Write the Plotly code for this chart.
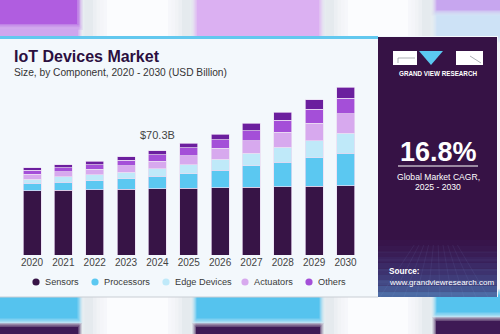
import plotly.graph_objects as go

# ---- data (USD billion) ----
years = ["2020", "2021", "2022", "2023", "2024", "2025", "2026", "2027", "2028", "2029", "2030"]
sensors = [43.3, 43.6, 44.0, 44.3, 44.7, 45.0, 45.2, 45.6, 46.0, 46.3, 46.7]
processors = [5.0, 5.4, 6.1, 7.1, 8.4, 9.8, 11.9, 14.4, 16.4, 19.1, 21.8]
edge_devices = [2.9, 3.6, 4.0, 4.5, 5.1, 6.1, 7.4, 8.6, 10.1, 11.7, 13.5]
actuators = [3.2, 3.4, 3.6, 4.2, 5.0, 5.9, 7.4, 8.3, 10.1, 11.7, 13.0]
others = [2.7, 2.9, 3.1, 3.6, 4.4, 5.4, 5.6, 6.7, 8.3, 9.4, 10.6]
other_top = [1.8, 2.0, 2.3, 2.4, 2.7, 3.2, 4.0, 5.2, 5.4, 6.3, 7.4]

legend_names = ["Sensors", "Processors", "Edge Devices", "Actuators", "Others"]
highlight_year = "2024"
cagr_text = "16.8%"

W, H = 500, 334
FONT = "Liberation Sans"

series = [
    ("Sensors", sensors, "#371446"),
    ("Processors", processors, "#5bc8f1"),
    ("Edge Devices", edge_devices, "#bfe9f9"),
    ("Actuators", actuators, "#d7a9ee"),
    ("Others", others, "#a44fd8"),
    ("Other", other_top, "#6b1f9e"),
]


def px(x):
    return x / W


def py(y):
    return 1 - y / H


fig = go.Figure()
for name, vals, color in series:
    fig.add_trace(go.Bar(
        x=years, y=vals, name=name, marker_color=color,
        marker_line=dict(color="#eadcf2", width=0.7),
        showlegend=False,
    ))

shapes = []


def rect(x0, y0, x1, y1, color, layer="below", opacity=1.0):
    shapes.append(dict(type="rect", xref="paper", yref="paper",
                       x0=px(x0), x1=px(x1), y0=py(y1), y1=py(y0),
                       fillcolor=color, line=dict(width=0), layer=layer,
                       opacity=opacity))


def soft_rect(x0, y0, x1, y1, color, r=5, steps=4):
    # solid core plus translucent halo layers for a blurred edge
    rect(x0 + r / 2, y0 + r / 2, x1 - r / 2, y1 - r / 2, color)
    for k in range(steps):
        d = -r / 2 + r * (k + 1) / steps
        rect(x0 - d, y0 - d, x1 + d, y1 + d, color, opacity=0.3)


# blurred backdrop strips above and below the card
rect(0, 0, W, H, "#f3f5f7")
soft_rect(-10, -10, 80, 27, "#b05de0", r=6)
soft_rect(-10, 27, 80, 40, "#cfa6ee", r=4)
soft_rect(194, -10, 322, 40, "#dbb1f3", r=6)
soft_rect(434, -10, 510, 13, "#c7a6ef", r=5)
soft_rect(434, 13, 510, 40, "#cde2f6", r=5)

soft_rect(-10, 292, 80, 321, "#55c3ee", r=5)
soft_rect(-10, 325, 80, 345, "#3e1a55", r=4)
soft_rect(194, 292, 322, 321, "#55c3ee", r=5)
soft_rect(194, 325, 322, 345, "#3e1a55", r=4)
soft_rect(434, 292, 510, 315, "#55c3ee", r=5)
soft_rect(434, 319, 510, 345, "#3e1a55", r=4)
for xa, xb in [(82, 193), (323, 433)]:
    soft_rect(xa, -10, xb, 345, "#e6eaee", r=5)
    soft_rect(xa + 18, -10, xb - 18, 345, "#fbfdfe", r=14)

# card
rect(0, 36, 498, 297, "#f3f8fc")
rect(0, 36, 378, 39, "#62c8ef")
shapes.append(dict(type="line", xref="paper", yref="paper",
                   x0=px(0), x1=px(378), y0=py(297), y1=py(297),
                   line=dict(color="#c9ced4", width=1), layer="below"))
# side panel with a bluish floor glow
rect(378, 37, 497, 297, "#361245")
glow = ["#37144a", "#38184f", "#391d56", "#3a235e", "#3b2a66", "#3d326f",
        "#3f3c79", "#424985", "#465893", "#4b6aa3"]
for i, c in enumerate(glow):
    rect(378, 240 + i * 5.7, 497, 240 + (i + 1) * 5.7, c)
# faint perspective grid on the panel floor
for gx in range(380, 500, 12):
    shapes.append(dict(type="line", xref="paper", yref="paper",
                       x0=px(437 + (gx - 437) * 0.4), y0=py(245),
                       x1=px(gx), y1=py(297),
                       line=dict(color="rgba(140,170,230,0.14)", width=0.6),
                       layer="below"))
for gy in [252, 260, 270, 282, 294]:
    shapes.append(dict(type="line", xref="paper", yref="paper",
                       x0=px(378), x1=px(497), y0=py(gy), y1=py(gy),
                       line=dict(color="rgba(140,170,230,0.14)", width=0.6),
                       layer="below"))

# logo blocks
rect(393, 51, 417, 65, "#ffffff")
rect(456, 51, 483, 65, "#ffffff")
shapes.append(dict(type="path", xref="paper", yref="paper",
                   path=f"M {px(419)} {py(51)} L {px(443)} {py(51)} L {px(431)} {py(65)} Z",
                   fillcolor="#5bc8f1", line=dict(width=0), layer="below"))
shapes.append(dict(type="line", xref="paper", yref="paper",
                   x0=px(398), x1=px(415), y0=py(58), y1=py(58),
                   line=dict(color="#8a8f96", width=0.7), layer="below"))
shapes.append(dict(type="line", xref="paper", yref="paper",
                   x0=px(398), x1=px(398), y0=py(58), y1=py(63),
                   line=dict(color="#8a8f96", width=0.7), layer="below"))
shapes.append(dict(type="line", xref="paper", yref="paper",
                   x0=px(470), x1=px(481), y0=py(56), y1=py(63),
                   line=dict(color="#8a8f96", width=0.7), layer="below"))
# underline below the CAGR figure
shapes.append(dict(type="line", xref="paper", yref="paper",
                   x0=px(398), x1=px(478), y0=py(166), y1=py(166),
                   line=dict(color="#ffffff", width=1.2), layer="below"))

# legend dots
legend_x = [36, 95, 166, 245, 309]
colors = {n: c for n, _, c in series}
annotations = []
for name, x in zip(legend_names, legend_x):
    shapes.append(dict(type="circle", xref="paper", yref="paper",
                       x0=px(x - 3.6), x1=px(x + 3.6), y0=py(285.6), y1=py(278.4),
                       fillcolor=colors[name], line=dict(width=0), layer="above"))
    annotations.append(dict(x=px(x + 6.5), y=py(282), xref="paper", yref="paper",
                            text=name, showarrow=False, xanchor="left", yanchor="middle",
                            font=dict(family=FONT, size=9.2, color="#3a3a3a")))


def text(x, y, s, size, color, bold=False, anchor="center", family=FONT):
    annotations.append(dict(x=px(x), y=py(y), xref="paper", yref="paper",
                            text=f"<b>{s}</b>" if bold else s, showarrow=False,
                            xanchor=anchor, yanchor="middle",
                            font=dict(family=family, size=size, color=color)))


text(12, 57, "IoT Devices Market", 16, "#2b0f3f", bold=True, anchor="left")
text(12, 72.5, "Size, by Component, 2020 - 2030 (USD Billion)", 10.2, "#333333", anchor="left")
text(438, 73, "GRAND VIEW RESEARCH", 6.3, "#ffffff", bold=True)
text(438, 152, cagr_text, 27, "#ffffff", bold=True)
text(438, 177, "Global Market CAGR,", 8.6, "#ffffff")
text(438, 187, "2025 - 2030", 8.6, "#ffffff")
text(387, 271, "Source:", 8.2, "#ffffff", bold=True, anchor="left")
text(387, 282, "www.grandviewresearch.com", 8, "#ffffff", anchor="left")

# value label over the highlighted year
i = years.index(highlight_year)
total = round(sum(vals[i] for _, vals, _ in series), 1)
annotations.append(dict(x=i, y=total, xref="x", yref="y",
                        text="&#36;" + f"{total:.1f}B", showarrow=False, yanchor="bottom",
                        yshift=8, font=dict(family=FONT, size=11, color="#444444")))

ppu = 255 / 171.8
fig.update_layout(
    width=W, height=H,
    margin=dict(l=0, r=0, t=0, b=0),
    paper_bgcolor="#f3f5f7", plot_bgcolor="rgba(0,0,0,0)",
    barmode="stack", bargap=0.426,
    shapes=shapes, annotations=annotations,
    showlegend=False,
    xaxis=dict(type="category", domain=[0, 1], range=[-32 / 31.35, (W - 32) / 31.35],
               showgrid=False, zeroline=False, showline=False,
               ticks="", tickfont=dict(family=FONT, size=10, color="#444444")),
    yaxis=dict(domain=[(H - 255) / H, 1], range=[0, 255 / ppu],
               visible=False, showgrid=False, zeroline=False),
)

fig.write_html("out.html")
